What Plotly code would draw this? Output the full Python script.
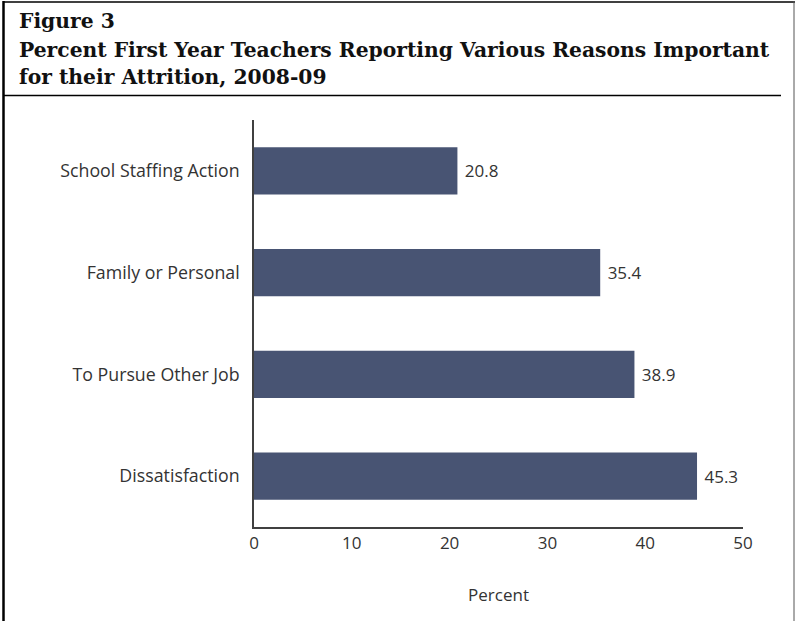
import plotly.graph_objects as go

categories = ["Dissatisfaction", "To Pursue Other Job", "Family or Personal", "School Staffing Action"]
values = [45.3, 38.9, 35.4, 20.8]
x_ticks = [0, 10, 20, 30, 40, 50]

W, H = 796, 621
def px(x): return x / W
def py(y): return 1 - y / H

FONT = "Open Sans, sans-serif"
TXT = "#333333"

fig = go.Figure(go.Bar(
    y=categories, x=values, orientation="h",
    marker=dict(color="#485473", line=dict(width=0)),
    width=0.465,
    text=[f" {v:.1f}" for v in values], textposition="outside",
    textfont=dict(family=FONT, size=17, color=TXT),
    cliponaxis=False,
))

fig.update_layout(
    width=W, height=H,
    margin=dict(l=0, r=0, t=0, b=0),
    paper_bgcolor="white", plot_bgcolor="white",
    showlegend=False,
    xaxis=dict(domain=[px(254), px(743)], range=[0, 50], tickvals=x_ticks,
               showgrid=False, zeroline=False, showline=True, linecolor="#404040", linewidth=1.5,
               ticks="", tickfont=dict(family=FONT, size=17, color=TXT),
               automargin=False,
               title=dict(text="Percent", font=dict(family=FONT, size=17, color=TXT), standoff=36)),
    yaxis=dict(domain=[py(527), py(120)], range=[-0.5, 3.5],
               showgrid=False, zeroline=False, showline=True, linecolor="#404040", linewidth=1.5,
               ticks="", ticklabelstandoff=9,
               tickfont=dict(family=FONT, size=17.8, color=TXT),
               automargin=False),
    font=dict(family=FONT),
)

title_font = dict(family="DejaVu Serif, serif", size=20.3, color="#111111")
title_lines = ["<b>Figure 3</b>",
               "<b>Percent First Year Teachers Reporting Various Reasons Important</b>",
               "<b>for their Attrition, 2008-09</b>"]
title_y = [21, 50, 77]
for t, y in zip(title_lines, title_y):
    fig.add_annotation(text=t, xref="paper", yref="paper", x=px(17), y=py(y),
                       xanchor="left", yanchor="middle", showarrow=False, font=title_font)

# frame
fig.add_shape(type="line", xref="paper", yref="paper", x0=px(3.5), x1=px(3.5), y0=py(1), y1=py(621),
              line=dict(color="black", width=2.5))
fig.add_shape(type="line", xref="paper", yref="paper", x0=px(3), x1=px(795), y0=py(2), y1=py(2),
              line=dict(color="black", width=1.5))
fig.add_shape(type="line", xref="paper", yref="paper", x0=px(794), x1=px(794), y0=py(1), y1=py(621),
              line=dict(color="#555555", width=1))
fig.add_shape(type="line", xref="paper", yref="paper", x0=px(4), x1=px(781), y0=py(95.5), y1=py(95.5),
              line=dict(color="black", width=1.5))

fig.write_html("out.html", config={"displayModeBar": False},
               post_script="document.body.style.margin='0';document.body.style.overflow='hidden';")
